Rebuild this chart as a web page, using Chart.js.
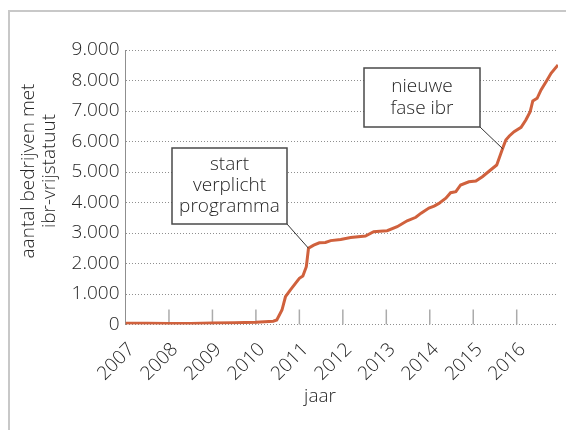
<!DOCTYPE html>
<html>
  <head>
    <meta charset="utf-8"/>
    <style>
      html, body { margin: 0; padding: 0; background: #fff; overflow: hidden; }
      #frame { position: absolute; left: 8px; top: 10px; width: 620px; height: 500px;
               border: 2px solid #c8c8c8; box-sizing: border-box; }
      #chart-area { position: absolute; left: 0; top: 0; }
    </style>
  </head>
  <body>
    <div id="frame"></div>
    <canvas id="chart-area" width="566" height="430"></canvas>

    <script src="https://cdn.jsdelivr.net/npm/chart.js@4/dist/chart.umd.min.js"></script>
    <script>
        // jaar (als decimaal) en aantal bedrijven met ibr-vrijstatuut
        var jaren = [2007.0, 2007.5, 2008.0, 2008.5, 2009.0, 2009.5, 2010.0, 2010.4, 2010.48, 2010.6,
                     2010.68, 2010.79, 2010.91, 2011.0, 2011.08, 2011.16, 2011.21, 2011.33, 2011.46, 2011.6,
                     2011.72, 2011.95, 2012.18, 2012.52, 2012.71, 2012.85, 2013.02, 2013.25, 2013.48, 2013.68,
                     2013.8, 2013.98, 2014.1, 2014.21, 2014.37, 2014.48, 2014.6, 2014.71, 2014.9, 2015.06,
                     2015.21, 2015.37, 2015.54, 2015.6, 2015.68, 2015.75, 2015.83, 2015.94, 2016.1, 2016.21,
                     2016.31, 2016.37, 2016.47, 2016.56, 2016.7, 2016.79, 2016.95];
        var aantallen = [40, 40, 35, 30, 50, 60, 70, 110, 150, 475,
                         910, 1130, 1350, 1515, 1590, 1895, 2500, 2600, 2680, 2690,
                         2750, 2790, 2850, 2900, 3040, 3060, 3075, 3205, 3400, 3515,
                         3650, 3820, 3880, 3970, 4140, 4320, 4355, 4574, 4680, 4705,
                         4846, 5033, 5230, 5470, 5790, 6050, 6180, 6323, 6465, 6705,
                         6977, 7328, 7416, 7689, 8016, 8236, 8508];

        var yTitel = ['aantal bedrijven met', 'ibr-vrijstatuut'];
        var xTitel = 'jaar';

        // tekstvakken: punt op de lijn (jaar, aantal) + vak in pixels
        var notities = [
            { tekst: ['start', 'verplicht', 'programma'], jaar: 2011.21, aantal: 2500,
              box: { x: 172, y: 148, w: 115, h: 76 }, regels: [165, 186, 207] },
            { tekst: ['nieuwe', 'fase ibr'], jaar: 2015.68, aantal: 5760,
              box: { x: 364, y: 68, w: 116, h: 59 }, regels: [87, 109] }
        ];

        var tekstKleur = '#262626';
        var font = '"Open Sans", Lato, sans-serif';
        var canvasFont = '300 19px ' + font;

        var punten = [];
        for (var i = 0; i < jaren.length; i++) {
            punten.push({ x: jaren[i], y: aantallen[i] });
        }

        var formatNL = function(v) {
            return String(v).replace(/\B(?=(\d{3})+(?!\d))/g, '.');
        };

        // streepjes bij de jaren, binnen het plotvlak
        var jaarStreepjes = {
            id: 'jaarStreepjes',
            beforeDatasetsDraw: function(chart) {
                var ctx = chart.ctx, xs = chart.scales.x, area = chart.chartArea;
                ctx.save();
                ctx.strokeStyle = '#ababab';
                ctx.lineWidth = 1.5;
                xs.ticks.forEach(function(t) {
                    if (t.value <= xs.min) return;
                    var px = xs.getPixelForValue(t.value);
                    ctx.beginPath();
                    ctx.moveTo(px, area.bottom - 15);
                    ctx.lineTo(px, area.bottom);
                    ctx.stroke();
                });
                ctx.restore();
            }
        };

        var extraTekst = {
            id: 'extraTekst',
            afterDatasetsDraw: function(chart) {
                var ctx = chart.ctx, xs = chart.scales.x, ys = chart.scales.y;
                ctx.save();
                // notities
                notities.forEach(function(n) {
                    var px = xs.getPixelForValue(n.jaar), py = ys.getPixelForValue(n.aantal);
                    ctx.strokeStyle = '#333';
                    ctx.lineWidth = 1;
                    ctx.beginPath();
                    ctx.moveTo(n.box.x + n.box.w, n.box.y + n.box.h);
                    ctx.lineTo(px, py);
                    ctx.stroke();
                    ctx.fillStyle = '#fff';
                    ctx.fillRect(n.box.x, n.box.y, n.box.w, n.box.h);
                    ctx.strokeStyle = '#4a4a4a';
                    ctx.lineWidth = 1.5;
                    ctx.strokeRect(n.box.x, n.box.y, n.box.w, n.box.h);
                    ctx.fillStyle = tekstKleur;
                    ctx.font = canvasFont;
                    ctx.textAlign = 'center';
                    ctx.textBaseline = 'middle';
                    n.tekst.forEach(function(r, j) {
                        ctx.fillText(r, n.box.x + n.box.w / 2, n.regels[j]);
                    });
                });
                // as-titels
                ctx.fillStyle = tekstKleur;
                ctx.font = canvasFont;
                ctx.textAlign = 'center';
                ctx.textBaseline = 'middle';
                ctx.fillText(xTitel, 320, 397);
                ctx.translate(0, 171);
                ctx.rotate(-Math.PI / 2);
                ctx.fillText(yTitel[0], 0, 29);
                ctx.fillText(yTitel[1], 0, 50);
                ctx.restore();
            }
        };

        var ctx = document.getElementById('chart-area').getContext('2d');
        var chart = new Chart(ctx, {
            type: 'line',
            data: {
                datasets: [{
                    label: 'ibr-vrijstatuut',
                    data: punten,
                    borderColor: '#d0613d',
                    borderWidth: 3,
                    pointRadius: 0,
                    tension: 0,
                    fill: false
                }]
            },
            options: {
                responsive: false,
                animation: false,
                layout: { padding: { left: 0, top: 50, right: 8, bottom: 0 } },
                plugins: {
                    legend: { display: false },
                    tooltip: { enabled: false }
                },
                scales: {
                    x: {
                        type: 'linear',
                        min: 2007,
                        max: 2016.95,
                        afterFit: function(scale) { scale.height = 105.5; },
                        grid: { display: false },
                        border: { display: false },
                        ticks: {
                            stepSize: 1,
                            includeBounds: false,
                            autoSkip: false,
                            maxRotation: 45,
                            minRotation: 45,
                            padding: 6,
                            labelOffset: 6,
                            color: tekstKleur,
                            font: { family: font, size: 19, weight: 300 },
                            callback: function(v) { return String(v); }
                        }
                    },
                    y: {
                        min: 0,
                        max: 9000,
                        afterFit: function(scale) { scale.width = 125.5; },
                        grid: { color: '#8f8f8f', lineWidth: 1, drawTicks: false },
                        border: { display: true, color: '#8f8f8f', dash: [1, 2] },
                        ticks: {
                            stepSize: 1000,
                            padding: 6,
                            color: tekstKleur,
                            font: { family: font, size: 19, weight: 300 },
                            callback: function(v) { return formatNL(v); }
                        }
                    }
                }
            },
            plugins: [jaarStreepjes, extraTekst]
        });
    </script>
  </body>
</html>
